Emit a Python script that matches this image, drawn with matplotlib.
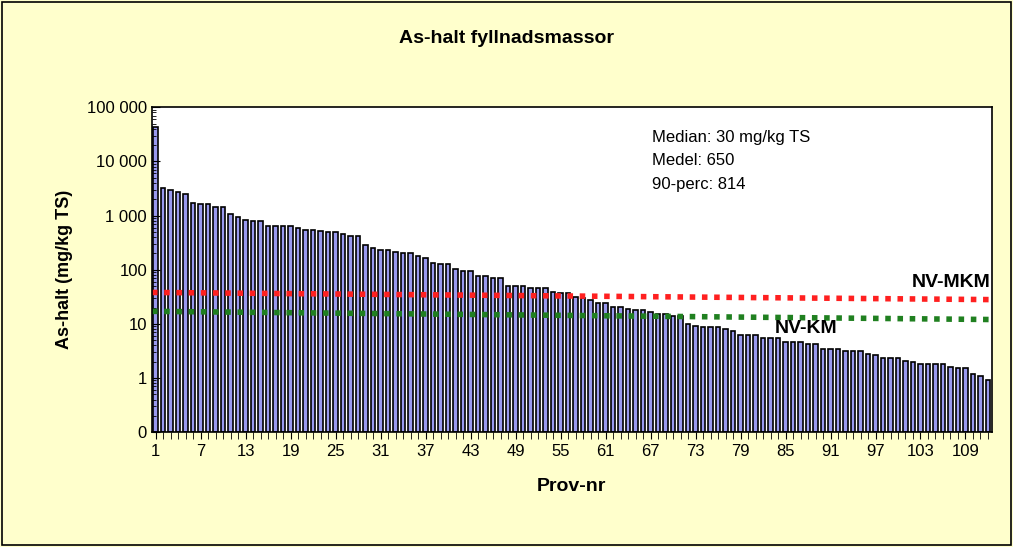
import numpy as np
import matplotlib
matplotlib.use("Agg")
import matplotlib.pyplot as plt
from matplotlib.ticker import FixedLocator, LogLocator, NullFormatter

# As-halt per prov, sorterat fallande (mg/kg TS)
values = [44000, 3200, 3000, 2700, 2500, 1700, 1600, 1600, 1450, 1450,
          1050, 920, 830, 780, 780, 650, 650, 650, 650, 600,
          550, 550, 510, 490, 490, 450, 410, 410, 290, 255,
          235, 235, 215, 200, 200, 180, 165, 130, 125, 125,
          105, 95, 95, 75, 75, 70, 70, 50, 50, 50,
          46, 46, 46, 39, 37,
          37, 31, 30, 28, 24, 24, 20, 20, 19, 18,
          18, 16.5, 15.4, 15.4, 13.6, 13.6, 10, 9.2, 8.7, 8.7,
          8.7, 8.0, 7.2, 6.1, 6.1, 6.1, 5.3, 5.3, 5.3, 4.5,
          4.5, 4.5, 4.2, 4.2, 3.3, 3.3, 3.3, 3.0, 3.0, 3.0,
          2.7, 2.6, 2.25, 2.25, 2.25, 2.0, 1.9, 1.7, 1.7, 1.7,
          1.7, 1.5, 1.4, 1.4, 1.1, 1.0, 0.83]
mkm_ends = [38, 28]   # NV-MKM
km_ends = [17, 12]    # NV-KM
yticks = [0.1, 1, 10, 100, 1000, 10000, 100000]
ytick_labels = ["0", "1", "10", "100", "1 000", "10 000", "100 000"]

n = len(values)
x = np.arange(1, n + 1)

fig = plt.figure(figsize=(10.13, 5.47), dpi=100, facecolor="#FFFFCC")
ax = fig.add_axes([0.150, 0.210, 0.829, 0.594])
ax.set_facecolor("white")

ax.bar(x, values, width=0.6, bottom=0.1, color="#9999EE", edgecolor="black", linewidth=1.2)
ax.plot([0.5, n + 0.5], mkm_ends, color="#FF2020", linestyle=(0, (1, 1.2)), linewidth=4)
ax.plot([0.5, n + 0.5], km_ends, color="#208020", linestyle=(0, (1, 1.2)), linewidth=4)

ax.set_yscale("log")
ax.set_ylim(0.1, 100000)
ax.set_xlim(0.5, n + 0.5)
ax.yaxis.set_major_locator(FixedLocator(yticks))
ax.set_yticklabels(ytick_labels, fontsize=12, fontname="Liberation Sans")
ax.yaxis.set_minor_locator(LogLocator(base=10, subs=np.arange(2, 10)))
ax.yaxis.set_minor_formatter(NullFormatter())
ax.tick_params(axis="y", which="major", direction="in", length=6)
ax.tick_params(axis="y", which="minor", direction="in", length=3)

ax.set_xticks(x, minor=True)
ax.set_xticks(x[::6])
ax.set_xticklabels([str(v) for v in x[::6]], fontsize=12, fontname="Liberation Sans")
ax.tick_params(axis="x", which="both", direction="out", length=5)

for s in ax.spines.values():
    s.set_linewidth(1.2)

ax.set_xlabel("Prov-nr", fontsize=14, fontweight="bold", fontname="Liberation Sans", labelpad=14)
ax.set_ylabel("As-halt (mg/kg TS)", fontsize=13, fontweight="bold", fontname="Liberation Sans", labelpad=10)
fig.text(0.50, 0.93, "As-halt fyllnadsmassor", ha="center", va="center",
         fontsize=14, fontweight="bold", fontname="Liberation Sans")

ax.text(0.595, 0.93, "Median: 30 mg/kg TS\nMedel: 650\n90-perc: 814", transform=ax.transAxes,
        va="top", ha="left", fontsize=12, fontname="Liberation Sans", linespacing=1.7)
ax.text(n + 0.3, 40, "NV-MKM", ha="right", va="bottom", fontsize=14, fontweight="bold",
        fontname="Liberation Sans")
ax.text(83.5, 5.6, "NV-KM", ha="left", va="bottom", fontsize=14, fontweight="bold",
        fontname="Liberation Sans")

border = plt.Rectangle((0.002, 0.004), 0.996, 0.992, transform=fig.transFigure,
                       fill=False, edgecolor="black", linewidth=1.2)
fig.add_artist(border)

fig.savefig("out.png", dpi=100, facecolor=fig.get_facecolor())
